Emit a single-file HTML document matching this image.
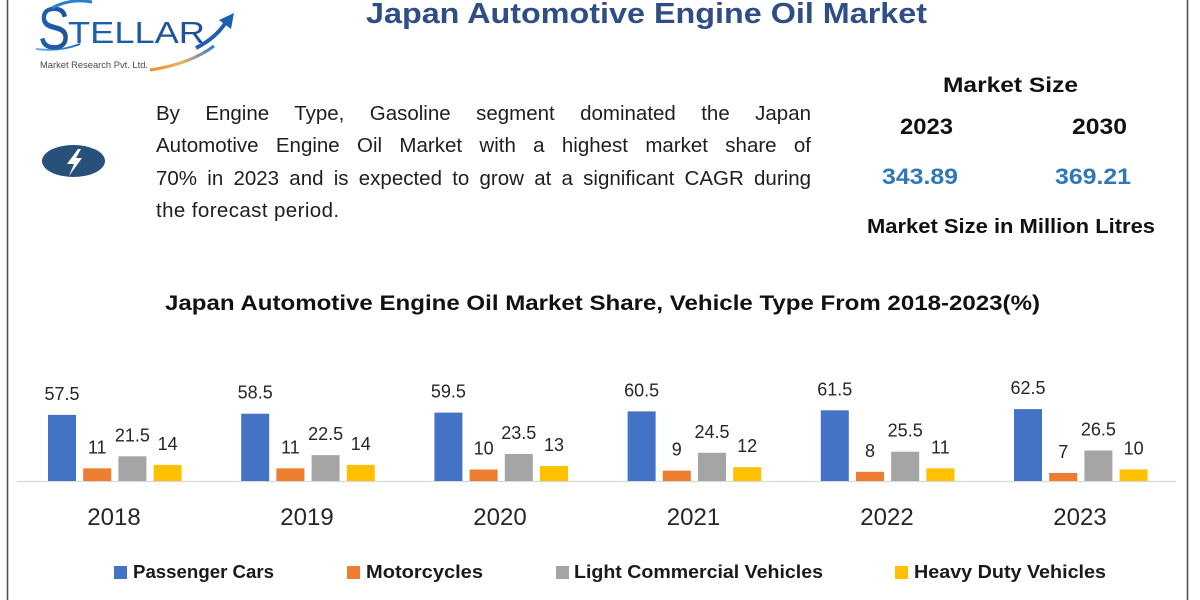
<!DOCTYPE html>
<html>
<head>
<meta charset="utf-8">
<style>
  html,body{margin:0;padding:0;background:#fff;}
  body{width:1200px;height:600px;position:relative;overflow:hidden;font-family:"Liberation Sans",sans-serif;}
  svg{position:absolute;left:0;top:0;}
  .pl{position:absolute;left:156px;width:655px;font-size:20.5px;line-height:32px;color:#1e1e1e;white-space:nowrap;font-family:"Liberation Sans",sans-serif;}
  .j{text-align:justify;text-align-last:justify;white-space:normal;}
</style>
</head>
<body>
<svg width="1200" height="600" viewBox="0 0 1200 600" xmlns="http://www.w3.org/2000/svg" font-family="Liberation Sans, sans-serif">
  <defs>
    <linearGradient id="gb" x1="0" y1="0" x2="1" y2="0">
      <stop offset="0" stop-color="#1b63b5"/>
      <stop offset="1" stop-color="#1f4f95"/>
    </linearGradient>
    <linearGradient id="gs" x1="0" y1="0" x2="1" y2="0">
      <stop offset="0" stop-color="#f0902a"/>
      <stop offset="0.5" stop-color="#e8b060"/>
      <stop offset="1" stop-color="#2a7fd0"/>
    </linearGradient>
    <linearGradient id="gt" x1="0" y1="0" x2="1" y2="0">
      <stop offset="0" stop-color="#6bb8ee"/>
      <stop offset="1" stop-color="#1c64b8"/>
    </linearGradient>
  </defs>

  <!-- frame -->
  <line x1="7.5" y1="0" x2="7.5" y2="600" stroke="#44556a" stroke-width="1.6"/>
  <line x1="1187.5" y1="0" x2="1187.5" y2="600" stroke="#44556a" stroke-width="1.6"/>

  <!-- logo -->
  <path d="M36 49 Q60 52 80 44" stroke="url(#gt)" stroke-width="2" fill="none"/>
  <text x="38" y="49" font-size="60" fill="url(#gb)" textLength="32" lengthAdjust="spacingAndGlyphs">S</text>
  <path d="M52 8 Q70 -2 92 2" stroke="#2a7fd0" stroke-width="3" fill="none"/>
  <text x="68" y="43" font-size="31" fill="url(#gb)" textLength="137" lengthAdjust="spacingAndGlyphs">TELLAR</text>
  <path d="M150 70 Q190 64 214 46" stroke="url(#gs)" stroke-width="3" fill="none"/>
  <path d="M196 48 Q216 38 226 22" stroke="#1f5fb0" stroke-width="4" fill="none"/>
  <polygon points="234,13 219,20 231,29" fill="#1f5fb0"/>
  <text x="40" y="68" font-size="9" fill="#4a4a4a" textLength="108" lengthAdjust="spacingAndGlyphs">Market Research Pvt. Ltd.</text>

  <!-- main title -->
  <text x="366" y="23" font-size="29" font-weight="bold" fill="#2f4e86" textLength="561" lengthAdjust="spacingAndGlyphs">Japan Automotive Engine Oil Market</text>

  <!-- icon -->
  <ellipse cx="73.5" cy="161" rx="31.5" ry="16" fill="#27507a"/>
  <polygon points="78,149 67,164 74,164 69,176 82,158 76,158 81,149" fill="#ffffff"/>

  <!-- right panel -->
  <text x="943" y="92" font-size="21" font-weight="bold" fill="#111" textLength="135" lengthAdjust="spacingAndGlyphs">Market Size</text>
  <text x="900" y="134" font-size="22" font-weight="bold" fill="#111" textLength="53" lengthAdjust="spacingAndGlyphs">2023</text>
  <text x="1072" y="134" font-size="22" font-weight="bold" fill="#111" textLength="55" lengthAdjust="spacingAndGlyphs">2030</text>
  <text x="882" y="184" font-size="22" font-weight="bold" fill="#2e78ba" textLength="76" lengthAdjust="spacingAndGlyphs">343.89</text>
  <text x="1055" y="184" font-size="22" font-weight="bold" fill="#2e78ba" textLength="76" lengthAdjust="spacingAndGlyphs">369.21</text>
  <text x="867" y="233" font-size="20" font-weight="bold" fill="#111" textLength="288" lengthAdjust="spacingAndGlyphs">Market Size in Million Litres</text>

  <!-- chart title -->
  <text x="165" y="310" font-size="21" font-weight="bold" fill="#111" textLength="875" lengthAdjust="spacingAndGlyphs">Japan Automotive Engine Oil Market Share, Vehicle Type From 2018-2023(%)</text>

  <!-- axis -->
  <line x1="17" y1="481.5" x2="1176" y2="481.5" stroke="#d9d9d9" stroke-width="1.2"/>

  <!-- bars -->
  <g>
    <rect x="48" y="414.9" width="28" height="66.1" fill="#4472c4"/>
    <rect x="83.2" y="468.35" width="28" height="12.65" fill="#ed7d31"/>
    <rect x="118.4" y="456.3" width="28" height="24.7" fill="#a5a5a5"/>
    <rect x="153.6" y="464.9" width="28" height="16.1" fill="#ffc000"/>

    <rect x="241.2" y="413.7" width="28" height="67.3" fill="#4472c4"/>
    <rect x="276.4" y="468.35" width="28" height="12.65" fill="#ed7d31"/>
    <rect x="311.6" y="455.1" width="28" height="25.9" fill="#a5a5a5"/>
    <rect x="346.8" y="464.9" width="28" height="16.1" fill="#ffc000"/>

    <rect x="434.4" y="412.6" width="28" height="68.4" fill="#4472c4"/>
    <rect x="469.6" y="469.5" width="28" height="11.5" fill="#ed7d31"/>
    <rect x="504.8" y="454.0" width="28" height="27.0" fill="#a5a5a5"/>
    <rect x="540" y="466.05" width="28" height="14.95" fill="#ffc000"/>

    <rect x="627.6" y="411.4" width="28" height="69.6" fill="#4472c4"/>
    <rect x="662.8" y="470.65" width="28" height="10.35" fill="#ed7d31"/>
    <rect x="698" y="452.8" width="28" height="28.2" fill="#a5a5a5"/>
    <rect x="733.2" y="467.2" width="28" height="13.8" fill="#ffc000"/>

    <rect x="820.8" y="410.3" width="28" height="70.7" fill="#4472c4"/>
    <rect x="856" y="471.8" width="28" height="9.2" fill="#ed7d31"/>
    <rect x="891.2" y="451.7" width="28" height="29.3" fill="#a5a5a5"/>
    <rect x="926.4" y="468.35" width="28" height="12.65" fill="#ffc000"/>

    <rect x="1014" y="409.1" width="28" height="71.9" fill="#4472c4"/>
    <rect x="1049.2" y="472.95" width="28" height="8.05" fill="#ed7d31"/>
    <rect x="1084.4" y="450.5" width="28" height="30.5" fill="#a5a5a5"/>
    <rect x="1119.6" y="469.5" width="28" height="11.5" fill="#ffc000"/>
  </g>

  <!-- data labels -->
  <g font-size="18" fill="#262626" text-anchor="middle">
    <text x="62" y="400">57.5</text>
    <text x="97.2" y="453.4">11</text>
    <text x="132.4" y="441.3">21.5</text>
    <text x="167.6" y="450">14</text>

    <text x="255.2" y="398.7">58.5</text>
    <text x="290.4" y="453.4">11</text>
    <text x="325.6" y="440.1">22.5</text>
    <text x="360.8" y="450">14</text>

    <text x="448.4" y="397.6">59.5</text>
    <text x="483.6" y="454.5">10</text>
    <text x="518.8" y="439">23.5</text>
    <text x="554" y="451">13</text>

    <text x="641.6" y="396.4">60.5</text>
    <text x="676.8" y="455.7">9</text>
    <text x="712" y="437.8">24.5</text>
    <text x="747.2" y="452.2">12</text>

    <text x="834.8" y="395.3">61.5</text>
    <text x="870" y="456.8">8</text>
    <text x="905.2" y="436.7">25.5</text>
    <text x="940.4" y="453.4">11</text>

    <text x="1028" y="394.1">62.5</text>
    <text x="1063.2" y="458">7</text>
    <text x="1098.4" y="435.5">26.5</text>
    <text x="1133.6" y="454.5">10</text>
  </g>

  <!-- category labels -->
  <g font-size="24" fill="#262626" text-anchor="middle">
    <text x="114" y="525">2018</text>
    <text x="307" y="525">2019</text>
    <text x="500" y="525">2020</text>
    <text x="693.5" y="525">2021</text>
    <text x="887" y="525">2022</text>
    <text x="1080" y="525">2023</text>
  </g>

  <!-- legend -->
  <rect x="114" y="566" width="13" height="13" fill="#4472c4"/>
  <text x="133" y="578" font-size="18.5" font-weight="bold" fill="#1a1a1a" textLength="141" lengthAdjust="spacingAndGlyphs">Passenger Cars</text>
  <rect x="347" y="566" width="13" height="13" fill="#ed7d31"/>
  <text x="366" y="578" font-size="18.5" font-weight="bold" fill="#1a1a1a" textLength="117" lengthAdjust="spacingAndGlyphs">Motorcycles</text>
  <rect x="556" y="566" width="13" height="13" fill="#a5a5a5"/>
  <text x="574" y="578" font-size="18.5" font-weight="bold" fill="#1a1a1a" textLength="249" lengthAdjust="spacingAndGlyphs">Light Commercial Vehicles</text>
  <rect x="895" y="566" width="13" height="13" fill="#ffc000"/>
  <text x="914" y="578" font-size="18.5" font-weight="bold" fill="#1a1a1a" textLength="192" lengthAdjust="spacingAndGlyphs">Heavy Duty Vehicles</text>
</svg>

<div class="pl j" style="top:98px;">By Engine Type, Gasoline segment dominated the Japan</div>
<div class="pl j" style="top:130.3px;">Automotive Engine Oil Market with a highest market share of</div>
<div class="pl j" style="top:162.6px;">70% in 2023 and is expected to grow at a significant CAGR during</div>
<div class="pl" style="top:194.9px;letter-spacing:0.4px;">the forecast period.</div>
</body>
</html>
